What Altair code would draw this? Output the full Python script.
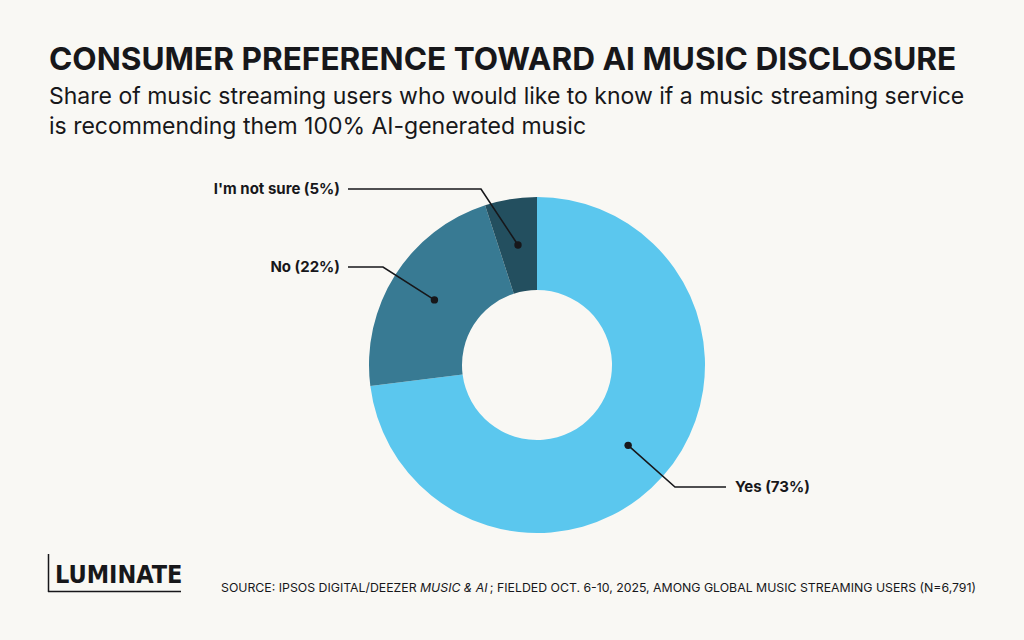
import math
import altair as alt
import pandas as pd

# Survey answers and their shares (%)
answers = ["Yes", "No", "I'm not sure"]
shares = [73, 22, 5]
colors = ["#5BC7EE", "#387A93", "#234F5F"]

W, H = 1024, 640
BG = "#F9F8F4"
INK = "#17171A"

# Donut geometry (pixels)
CX, CY = 537, 365
R_IN, R_OUT = 75, 168
R_DOT = (R_IN + R_OUT) / 2

# Leader-line elbows and label anchors for each answer
elbows = {"Yes": (675, 487), "No": (383, 267), "I'm not sure": (481, 189)}
ends = {"Yes": (726, 487), "No": (348, 267), "I'm not sure": (348, 189)}
label_side = {"Yes": "left", "No": "right", "I'm not sure": "right"}

df = pd.DataFrame({"answer": answers, "share": shares, "order": range(len(answers))})

# Dot position at the middle angle of each slice
total = sum(shares)
cum = 0
dots, lines, labels = [], [], []
for a, s in zip(answers, shares):
    mid = (cum + s / 2) / total * 2 * math.pi
    cum += s
    dx = CX + R_DOT * math.sin(mid)
    dy = CY - R_DOT * math.cos(mid)
    dots.append({"answer": a, "px": dx, "py": dy})
    ex, ey = elbows[a]
    tx, ty = ends[a]
    for i, (px, py) in enumerate([(dx, dy), (ex, ey), (tx, ty)]):
        lines.append({"answer": a, "i": i, "px": px, "py": py})
    gap = 9 if label_side[a] == "left" else -8
    labels.append({"answer": a, "px": tx + gap, "py": ty,
                   "label": f"{a} ({s}%)", "align": label_side[a]})

dots_df = pd.DataFrame(dots)
lines_df = pd.DataFrame(lines)
labels_df = pd.DataFrame(labels)

xs = alt.Scale(domain=[0, W], range=[0, W])
ys = alt.Scale(domain=[0, H], range=[0, H])

donut = alt.Chart(df).mark_arc(innerRadius=R_IN, outerRadius=R_OUT).encode(
    theta=alt.Theta("share:Q", stack=True),
    order=alt.Order("order:Q"),
    color=alt.Color("answer:N", scale=alt.Scale(domain=answers, range=colors), legend=None),
    x=alt.value(CX),
    y=alt.value(CY),
)

leaders = alt.Chart(lines_df).mark_line(color=INK, strokeWidth=1.6).encode(
    x=alt.X("px:Q", scale=xs, axis=None),
    y=alt.Y("py:Q", scale=ys, axis=None),
    detail="answer:N",
    order="i:Q",
)

dot_marks = alt.Chart(dots_df).mark_circle(color=INK, size=55, opacity=1).encode(
    x=alt.X("px:Q", scale=xs, axis=None),
    y=alt.Y("py:Q", scale=ys, axis=None),
)

def label_layer(align):
    sub = labels_df[labels_df["align"] == align]
    return alt.Chart(sub).mark_text(
        align=align, baseline="middle", font="Inter", fontSize=15,
        fontWeight="bold", color=INK,
    ).encode(
        x=alt.X("px:Q", scale=xs, axis=None),
        y=alt.Y("py:Q", scale=ys, axis=None),
        text="label:N",
    )

def text(s, x, y, size, weight="normal", align="left", font="Inter", style="normal",
         baseline="alphabetic"):
    return alt.Chart(pd.DataFrame({"t": [s]})).mark_text(
        align=align, baseline=baseline, font=font, fontSize=size, fontWeight=weight,
        fontStyle=style, color=INK,
    ).encode(x=alt.value(x), y=alt.value(y), text="t:N")

title = text("CONSUMER PREFERENCE TOWARD AI MUSIC DISCLOSURE", 49, 70, 31.6, weight="bold")
sub1 = text("Share of music streaming users who would like to know if a music streaming service",
            49, 103.5, 23)
sub2 = text("is recommending them 100% AI-generated music", 49, 134, 23)

# Source line: upright prefix, italic survey name, upright remainder
SRC = 12.3
src_a = text("SOURCE: IPSOS DIGITAL/DEEZER", 221, 592, SRC)
src_b = text("MUSIC & AI", 420, 592, SRC, style="italic")
src_c = text("; FIELDED OCT. 6-10, 2025, AMONG GLOBAL MUSIC STREAMING USERS (N=6,791)",
             976, 592, SRC, align="right")

logo = text("LUMINATE", 55, 583, 25, weight="bold",
            font="DejaVu Sans Condensed, sans-serif")
logo_v = alt.Chart(pd.DataFrame({"a": [0]})).mark_rule(color=INK, strokeWidth=1.5).encode(
    x=alt.value(48.5), y=alt.value(554), y2=alt.value(592))
logo_h = alt.Chart(pd.DataFrame({"a": [0]})).mark_rule(color=INK, strokeWidth=1.5).encode(
    x=alt.value(48), x2=alt.value(181), y=alt.value(591.5))

chart = alt.layer(
    donut, leaders, dot_marks, label_layer("left"), label_layer("right"),
    title, sub1, sub2, src_a, src_b, src_c, logo, logo_v, logo_h,
).properties(
    width=W, height=H, background=BG, padding=0,
    autosize=alt.AutoSizeParams(type="none"),
).configure_view(stroke=None)

chart.save("out.html", embed_options={"renderer": "svg", "actions": False})
